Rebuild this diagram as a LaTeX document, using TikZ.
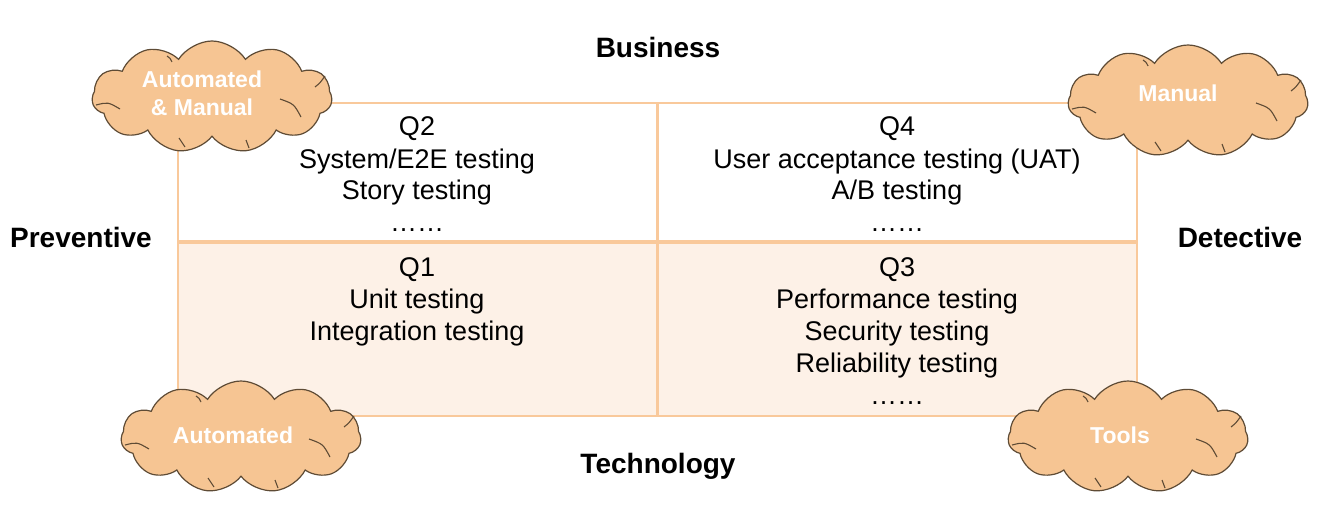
\documentclass[tikz,border=0pt]{standalone}
\usepackage{fontspec}
\setmainfont{Liberation Sans}
\usetikzlibrary{shapes.symbols}
\definecolor{gridline}{HTML}{F9C99B}
\definecolor{lowfill}{HTML}{FDF1E7}
\definecolor{cloudfill}{HTML}{F6C593}
\definecolor{cloudedge}{HTML}{5E4B35}
% inner fold lines of a cloud, drawn around the centre of node #1
\newcommand\cloudfolds[1]{%
  \begin{scope}[shift={(#1.center)}, cloudedge, line width=1.1pt]
    \draw (-116,8) .. controls (-104,5) .. (-92,12);
    \draw (68,2) .. controls (82,7) .. (89,20);
    \draw (103,-10) .. controls (108,-14) .. (113,-21);
    \draw (-45,-41) .. controls (-42,-39) .. (-40,-35);
    \draw (-33,41) .. controls (-30,45) .. (-27,50);
    \draw (34,43) .. controls (36,47) .. (37,51);
  \end{scope}}
\begin{document}
\begin{tikzpicture}[x=1pt,y=-1pt,
  quad/.style={draw=gridline, line width=2pt, minimum width=479pt, minimum height=140pt, inner sep=0},
  axislabel/.style={font=\fontsize{28}{32}\selectfont\bfseries, anchor=base, inner sep=0},
  entry/.style={font=\fontsize{27}{32}\selectfont, anchor=base, inner sep=0},
  puff/.style={cloud, cloud puffs=11, cloud puff arc=115, aspect=2.1,
    draw=cloudedge, line width=1.2pt, fill=cloudfill,
    minimum width=240pt, minimum height=112pt, inner sep=0},
  puffnote/.style={text=white, font=\fontsize{23}{28}\selectfont\bfseries, align=center, inner sep=0}]
\useasboundingbox (0,0) rectangle (1337,505);

% quadrants
\node[quad, fill=white]   (q2) at (417.5,173) {};
\node[quad, fill=white]   (q4) at (897,173) {};
\node[quad, fill=lowfill, minimum height=173pt] (q1) at (417.5,329.5) {};
\node[quad, fill=lowfill, minimum height=173pt] (q3) at (897,329.5) {};
\draw[gridline, line width=3.5pt] (q1.north west) -- (q3.north east);

% quadrant contents
\node[entry] (q2a) at (417,136) {Q2};
\node[entry] (q2b) at (417,168) {System/E2E testing};
\node[entry] (q2c) at (417,199) {Story testing};
\node[entry] (q2d) at (417,231) {……};

\node[entry] (q4a) at (897,136) {Q4};
\node[entry] (q4b) at (897,168) {User acceptance testing (UAT)};
\node[entry] (q4c) at (897,199) {A/B testing};
\node[entry] (q4d) at (897,231) {……};

\node[entry] (q1a) at (417,276) {Q1};
\node[entry] (q1b) at (417,308) {Unit testing};
\node[entry] (q1c) at (417,340) {Integration testing};

\node[entry] (q3a) at (897,276) {Q3};
\node[entry] (q3b) at (897,308) {Performance testing};
\node[entry] (q3c) at (897,340) {Security testing};
\node[entry] (q3d) at (897,372) {Reliability testing};
\node[entry] (q3e) at (897,404) {……};

% axis labels
\node[axislabel] (business)   at (658,58)  {Business};
\node[axislabel] (technology) at (658,473) {Technology};
\node[axislabel] (preventive) at (81,247)  {Preventive};
\node[axislabel] (detective)  at (1240,247) {Detective};

% clouds, each with its caption set a little left of centre
\node[puff] (cam)   at (212,97)   {};
\cloudfolds{cam}
\node[puffnote] (camtext) at (202,93) {Automated\\\& Manual};
\node[puff] (cman)  at (1188,101) {};
\cloudfolds{cman}
\node[puffnote] (cmantext) at (1178,93) {Manual};
\node[puff] (cauto) at (241,437)  {};
\cloudfolds{cauto}
\node[puffnote] (cautotext) at (233,435) {Automated};
\node[puff] (ctool) at (1128,437) {};
\cloudfolds{ctool}
\node[puffnote] (ctooltext) at (1120,435) {Tools};
\end{tikzpicture}
\end{document}
